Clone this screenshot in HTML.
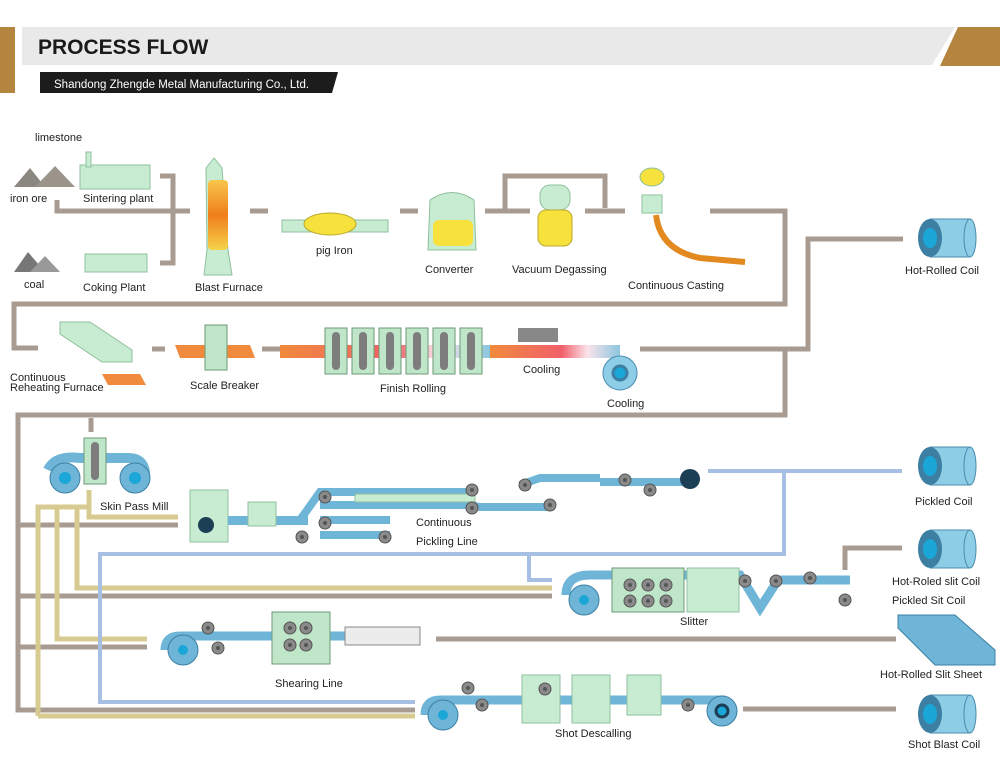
<!DOCTYPE html>
<html><head><meta charset="utf-8">
<style>
html,body{margin:0;padding:0;background:#fff;}
svg{display:block;}
text{font-family:"Liberation Sans",sans-serif;font-size:11px;fill:#222;}
</style></head><body>
<svg width="1000" height="782" viewBox="0 0 1000 782" xmlns="http://www.w3.org/2000/svg">
<defs>
<linearGradient id="og" x1="0" x2="0" y1="0" y2="1"><stop offset="0" stop-color="#f7c64a"/><stop offset=".5" stop-color="#f07e1c"/><stop offset="1" stop-color="#f5d34a"/></linearGradient>
<linearGradient id="strip" x1="0" x2="1"><stop offset="0" stop-color="#f08a3c"/><stop offset=".55" stop-color="#f0606a"/><stop offset=".75" stop-color="#fbe3ea"/><stop offset="1" stop-color="#8cc6e0"/></linearGradient>
<g id="coil"><rect x="0" y="0" width="40" height="38" fill="#8ecde6" stroke="#4a8db0"/><ellipse cx="0" cy="19" rx="12" ry="19" fill="#3d7fa3"/><ellipse cx="0" cy="19" rx="7" ry="10" fill="#1aa6d6"/><ellipse cx="40" cy="19" rx="6" ry="19" fill="#8ecde6" stroke="#4a8db0"/></g>
<g id="roll"><circle r="6" fill="#8a8a8a" stroke="#555"/><circle r="2" fill="#555"/></g>
<g id="stand"><rect x="0" y="0" width="22" height="46" fill="#bfe6c8" stroke="#6c9a77"/><rect x="7" y="4" width="8" height="38" rx="4" fill="#7d7d7d"/></g>
</defs>

<!-- header -->
<rect x="0" y="27" width="15" height="66" fill="#b5843e"/>
<polygon points="22,27 955,27 932,65 22,65" fill="#e9e9e9"/>
<polygon points="958,27 1000,27 1000,66 940,66" fill="#b5843e"/>
<text x="38" y="54" style="font-size:21px;font-weight:bold;fill:#1a1a1a">PROCESS FLOW</text>
<polygon points="40,72 338,72 332,93 40,93" fill="#1c1c1c"/>
<text x="54" y="88" style="font-size:11.5px;fill:#fff">Shandong Zhengde Metal Manufacturing Co., Ltd.</text>

<!-- brown lines top -->
<g fill="none" stroke="#a89b92" stroke-width="5">
<path d="M57,200 V211 H190"/>
<path d="M160,176 H173 V263 H160"/>
<path d="M250,211 H268 M400,211 H418 M485,211 H530 M585,211 H625"/>
<path d="M505,211 V176 H605 V208"/>
<path d="M710,211 H785 V304 H14 V348 H38"/>
<path d="M152,349 H165 M262,349 H280"/>
<path d="M640,349 H808 V239 H903"/>
<path d="M785,349 V415 H18 V710 H415"/>
<path d="M91,418 V432"/>
<path d="M18,525 H178 M18,596 H552 M18,647 H147"/>
<path d="M845,570 V548 H902"/>
<path d="M436,639 H896"/>
<path d="M743,709 H896"/>
</g>
<!-- tan lines -->
<g fill="none" stroke="#d8cb92" stroke-width="5">
<path d="M89,490 V517 H178"/>
<path d="M38,716 V507 H89"/>
<path d="M57,507 V639 H147"/>
<path d="M77,507 V588 H552"/>
<path d="M38,716 H415"/>
</g>
<!-- blue lines -->
<g fill="none" stroke="#a7bfe2" stroke-width="4">
<path d="M708,471 H902"/>
<path d="M784,471 V554 H100 V702 H415"/>
<path d="M529,554 V580 H552"/>
</g>

<!-- top equipment -->
<polygon points="14,187 30,168 45,187" fill="#8a8680"/><polygon points="35,187 55,166 75,187" fill="#9a948a"/>
<rect x="80" y="165" width="70" height="24" fill="#c7ecd2" stroke="#8fbf9c"/><rect x="86" y="152" width="5" height="15" fill="#c7ecd2" stroke="#8fbf9c"/>
<polygon points="14,272 28,252 45,272" fill="#777"/><polygon points="30,272 45,256 60,272" fill="#999"/>
<rect x="85" y="254" width="62" height="18" fill="#c7ecd2" stroke="#8fbf9c"/>
<path d="M206,168 L214,158 L222,168 L228,250 L232,275 L204,275 L207,250 Z" fill="#c7ecd2" stroke="#8fbf9c"/>
<rect x="208" y="180" width="20" height="70" rx="4" fill="url(#og)"/>
<rect x="282" y="220" width="106" height="12" fill="#c7ecd2" stroke="#8fbf9c"/>
<ellipse cx="330" cy="224" rx="26" ry="11" fill="#f6e13d" stroke="#b9a72a"/>
<path d="M430,200 Q452,185 474,200 L476,250 L428,250 Z" fill="#c7ecd2" stroke="#8fbf9c"/>
<rect x="433" y="220" width="40" height="26" rx="6" fill="#f6e13d"/>
<rect x="540" y="185" width="30" height="25" rx="10" fill="#c7ecd2" stroke="#8fbf9c"/>
<rect x="538" y="210" width="34" height="36" rx="8" fill="#f6e13d" stroke="#b9a72a"/>
<ellipse cx="652" cy="177" rx="12" ry="9" fill="#f6e13d" stroke="#8fbf9c"/>
<rect x="642" y="195" width="20" height="18" fill="#c7ecd2" stroke="#8fbf9c"/>
<path d="M656,215 Q660,250 700,258 L745,262" fill="none" stroke="#e2891f" stroke-width="6"/>

<!-- row 2 equipment -->
<polygon points="60,322 90,322 132,350 132,362 102,362 60,334" fill="#c7ecd2" stroke="#8fbf9c"/>
<polygon points="102,374 140,374 146,385 108,385" fill="#f08a3c"/>
<polygon points="175,345 250,345 255,358 180,358" fill="#f08a3c"/>
<rect x="205" y="325" width="22" height="45" fill="#bfe6c8" stroke="#6c9a77"/>
<rect x="280" y="345" width="210" height="13" fill="url(#strip)"/>
<rect x="490" y="345" width="130" height="13" fill="url(#strip)"/>
<use href="#stand" x="325" y="328"/><use href="#stand" x="352" y="328"/><use href="#stand" x="379" y="328"/><use href="#stand" x="406" y="328"/><use href="#stand" x="433" y="328"/><use href="#stand" x="460" y="328"/>
<rect x="518" y="328" width="40" height="14" fill="#888"/>
<circle cx="620" cy="373" r="17" fill="#8ecde6" stroke="#4a8db0"/><circle cx="620" cy="373" r="7" fill="#1aa6d6" stroke="#3d7fa3" stroke-width="3"/>

<!-- coils right -->
<use href="#coil" x="930" y="219"/>
<use href="#coil" x="930" y="447"/>
<use href="#coil" x="930" y="530"/>
<polygon points="898,615 955,615 995,650 995,665 935,665 898,628" fill="#6fb5d8" stroke="#3d7fa3"/>
<use href="#coil" x="930" y="695"/>

<!-- skin pass -->
<path d="M48,470 Q55,455 80,458 H128 Q145,458 145,475" fill="none" stroke="#6fb5d8" stroke-width="10"/>
<circle cx="65" cy="478" r="15" fill="#6fb5d8" stroke="#3d7fa3"/><circle cx="65" cy="478" r="6" fill="#1aa6d6"/>
<circle cx="135" cy="478" r="15" fill="#6fb5d8" stroke="#3d7fa3"/><circle cx="135" cy="478" r="6" fill="#1aa6d6"/>
<use href="#stand" x="84" y="438"/>

<!-- pickling line -->
<rect x="190" y="490" width="38" height="52" fill="#c7ecd2" stroke="#8fbf9c"/>
<circle cx="206" cy="525" r="8" fill="#1c3f55"/>
<rect x="228" y="516" width="80" height="9" fill="#6fb5d8"/>
<rect x="248" y="502" width="28" height="24" fill="#c7ecd2" stroke="#8fbf9c"/>
<path d="M300,520 L320,492 H470 M320,505 H470 M320,520 H390 M320,535 H390" fill="none" stroke="#6fb5d8" stroke-width="8"/>
<rect x="355" y="494" width="120" height="8" fill="#c7ecd2" stroke="#8fbf9c"/>
<path d="M470,505 L480,507 H550 M520,485 L540,478 H600 M600,482 H690" fill="none" stroke="#6fb5d8" stroke-width="8"/>
<use href="#roll" x="325" y="497"/><use href="#roll" x="325" y="523"/><use href="#roll" x="302" y="537"/><use href="#roll" x="472" y="490"/><use href="#roll" x="472" y="508"/><use href="#roll" x="525" y="485"/><use href="#roll" x="550" y="505"/><use href="#roll" x="625" y="480"/><use href="#roll" x="650" y="490"/><use href="#roll" x="385" y="537"/>
<circle cx="690" cy="479" r="10" fill="#1c3f55"/>

<!-- slitter -->
<path d="M566,595 Q566,575 590,575 H740 L760,608 L778,580 H850" fill="none" stroke="#6fb5d8" stroke-width="9"/>
<circle cx="584" cy="600" r="15" fill="#6fb5d8" stroke="#3d7fa3"/><circle cx="584" cy="600" r="5" fill="#1aa6d6"/>
<rect x="612" y="568" width="72" height="44" fill="#bfe6c8" stroke="#6c9a77"/>
<rect x="687" y="568" width="52" height="44" fill="#c7ecd2" stroke="#8fbf9c"/>
<use href="#roll" x="630" y="585"/><use href="#roll" x="648" y="585"/><use href="#roll" x="666" y="585"/><use href="#roll" x="630" y="601"/><use href="#roll" x="648" y="601"/><use href="#roll" x="666" y="601"/>
<use href="#roll" x="745" y="581"/><use href="#roll" x="776" y="581"/><use href="#roll" x="810" y="578"/><use href="#roll" x="845" y="600"/>

<!-- shearing -->
<path d="M165,650 Q165,636 180,636 H350" fill="none" stroke="#6fb5d8" stroke-width="9"/>
<circle cx="183" cy="650" r="15" fill="#6fb5d8" stroke="#3d7fa3"/><circle cx="183" cy="650" r="5" fill="#1aa6d6"/>
<rect x="272" y="612" width="58" height="52" fill="#bfe6c8" stroke="#6c9a77"/>
<use href="#roll" x="290" y="628"/><use href="#roll" x="306" y="628"/><use href="#roll" x="290" y="645"/><use href="#roll" x="306" y="645"/>
<rect x="345" y="627" width="75" height="18" fill="#ececec" stroke="#888"/>
<use href="#roll" x="208" y="628"/><use href="#roll" x="218" y="648"/>

<!-- shot descaling -->
<path d="M425,715 Q425,700 440,700 H725" fill="none" stroke="#6fb5d8" stroke-width="9"/>
<circle cx="443" cy="715" r="15" fill="#6fb5d8" stroke="#3d7fa3"/><circle cx="443" cy="715" r="5" fill="#1aa6d6"/>
<circle cx="722" cy="711" r="15" fill="#6fb5d8" stroke="#3d7fa3"/><circle cx="722" cy="711" r="6" fill="#1aa6d6" stroke="#1c3f55" stroke-width="3"/>
<rect x="522" y="675" width="38" height="48" fill="#c7ecd2" stroke="#8fbf9c"/>
<rect x="572" y="675" width="38" height="48" fill="#c7ecd2" stroke="#8fbf9c"/>
<rect x="627" y="675" width="34" height="40" fill="#c7ecd2" stroke="#8fbf9c"/>
<use href="#roll" x="468" y="688"/><use href="#roll" x="482" y="705"/><use href="#roll" x="545" y="689"/><use href="#roll" x="688" y="705"/>

<!-- labels -->
<text x="35" y="141">limestone</text>
<text x="10" y="202">iron ore</text>
<text x="83" y="202">Sintering plant</text>
<text x="24" y="288">coal</text>
<text x="83" y="291">Coking Plant</text>
<text x="195" y="291">Blast Furnace</text>
<text x="316" y="254">pig Iron</text>
<text x="425" y="273">Converter</text>
<text x="512" y="273">Vacuum Degassing</text>
<text x="628" y="289">Continuous Casting</text>
<text x="905" y="274">Hot-Rolled Coil</text>
<text x="10" y="381">Continuous</text>
<text x="10" y="391">Reheating Furnace</text>
<text x="190" y="389">Scale Breaker</text>
<text x="380" y="392">Finish Rolling</text>
<text x="523" y="373">Cooling</text>
<text x="607" y="407">Cooling</text>
<text x="100" y="510">Skin Pass Mill</text>
<text x="416" y="526">Continuous</text>
<text x="416" y="545">Pickling Line</text>
<text x="915" y="505">Pickled Coil</text>
<text x="892" y="585">Hot-Roled slit Coil</text>
<text x="892" y="604">Pickled Sit Coil</text>
<text x="680" y="625">Slitter</text>
<text x="275" y="687">Shearing Line</text>
<text x="880" y="678">Hot-Rolled Slit Sheet</text>
<text x="555" y="737">Shot Descalling</text>
<text x="908" y="748">Shot Blast Coil</text>
</svg>
</body></html>
